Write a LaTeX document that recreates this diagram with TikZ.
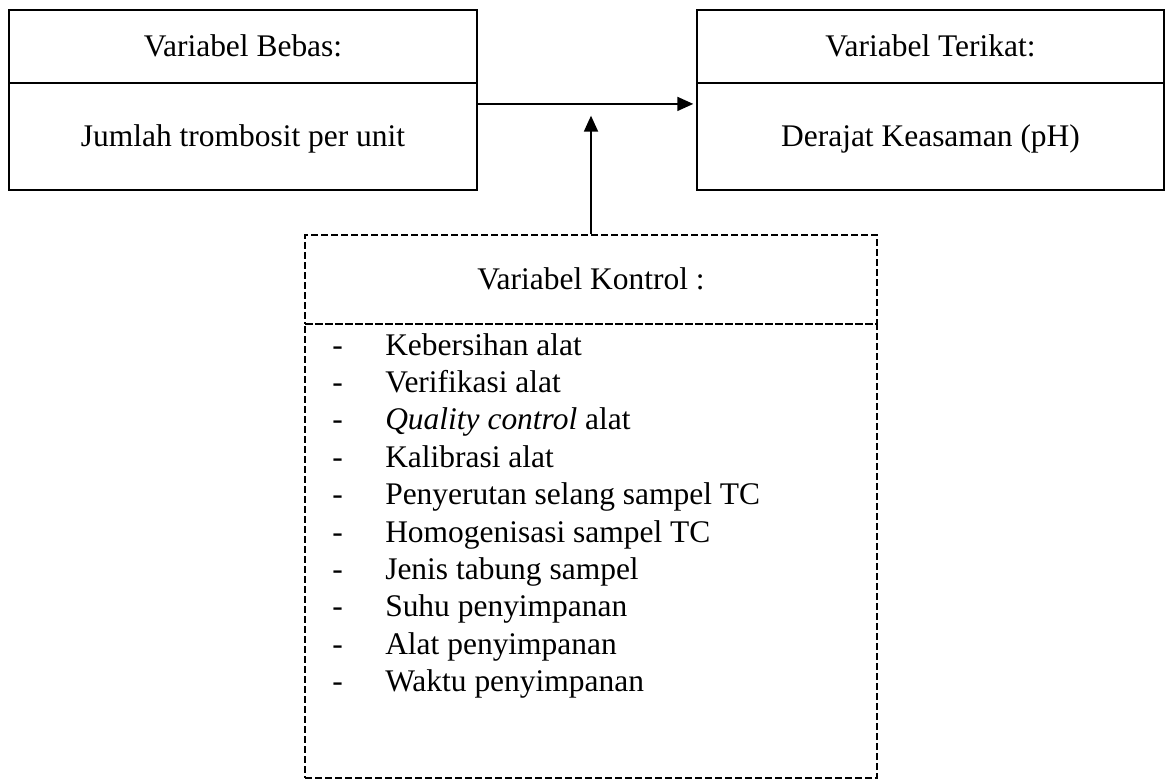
\documentclass[tikz,border=0pt]{standalone}
\usepackage{fontspec}
\setmainfont{Liberation Serif}
\usetikzlibrary{arrows.meta}

\tikzset{
  teks/.style={font=\fontsize{23.6}{28}\selectfont},
  kotak/.style={draw, line width=1.6pt, inner sep=0pt, teks, text height=15.6pt, text depth=0pt},
  kotakputus/.style={draw, line width=1.3pt, dash pattern=on 5.25pt off 2.25pt, inner sep=0pt, teks},
  panah/.style={line width=1.4pt, -{Triangle[length=12pt,width=10.5pt]}, shorten >=2pt},
  butir/.style={anchor=base west, inner sep=0pt, teks}
}

\begin{document}
\begin{tikzpicture}[x=0.75pt,y=0.75pt,yscale=-1,xscale=1]
\path[use as bounding box] (0,0) rectangle (1170,781);

%Shape: Rectangle [id:bebas]
\node [kotak, minimum width=351pt, minimum height=54.75pt] (bebas) at (243,46.5) {Variabel Bebas:};
\node [kotak, minimum width=351pt, minimum height=80.25pt] (bebasIsi) at (243,136.5) {Jumlah trombosit per unit};
%Shape: Rectangle [id:terikat]
\node [kotak, minimum width=350.25pt, minimum height=54.75pt] (terikat) at (930.5,46.5) {Variabel Terikat:};
\node [kotak, minimum width=350.25pt, minimum height=80.25pt] (terikatIsi) at (930.5,136.5) {Derajat Keasaman (pH)};
%Shape: Rectangle [id:kontrol]
\node [kotakputus, minimum width=429pt, minimum height=66.75pt, text height=15.6pt, text depth=0pt] (kontrol) at (591,279.5) {Variabel Kontrol :};
\node [kotakputus, minimum width=429pt, minimum height=340.5pt] (kontrolIsi) at (591,551) {};

%Straight Lines [id:bebas-terikat]
\draw [panah] ([yshift=16.5pt]bebasIsi.north east) -- ([yshift=16.5pt]terikatIsi.north west);
%Straight Lines [id:kontrol-naik]
\coordinate (temu) at (591,113);
\draw [panah] (kontrol.north) -- (temu);

% Text Node
\node [butir] (k1) at (332,355) {\makebox[39.75pt][l]{-}Kebersihan alat};
% Text Node
\node [butir] (k2) at (332,392.4) {\makebox[39.75pt][l]{-}Verifikasi alat};
% Text Node
\node [butir] (k3) at (332,429.8) {\makebox[39.75pt][l]{-}\textit{Quality control} alat};
% Text Node
\node [butir] (k4) at (332,467.2) {\makebox[39.75pt][l]{-}Kalibrasi alat};
% Text Node
\node [butir] (k5) at (332,504.6) {\makebox[39.75pt][l]{-}Penyerutan selang sampel TC};
% Text Node
\node [butir] (k6) at (332,542) {\makebox[39.75pt][l]{-}Homogenisasi sampel TC};
% Text Node
\node [butir] (k7) at (332,579.4) {\makebox[39.75pt][l]{-}Jenis tabung sampel};
% Text Node
\node [butir] (k8) at (332,616.8) {\makebox[39.75pt][l]{-}Suhu penyimpanan};
% Text Node
\node [butir] (k9) at (332,654.2) {\makebox[39.75pt][l]{-}Alat penyimpanan};
% Text Node
\node [butir] (k10) at (332,691.6) {\makebox[39.75pt][l]{-}Waktu penyimpanan};

\end{tikzpicture}
\end{document}
